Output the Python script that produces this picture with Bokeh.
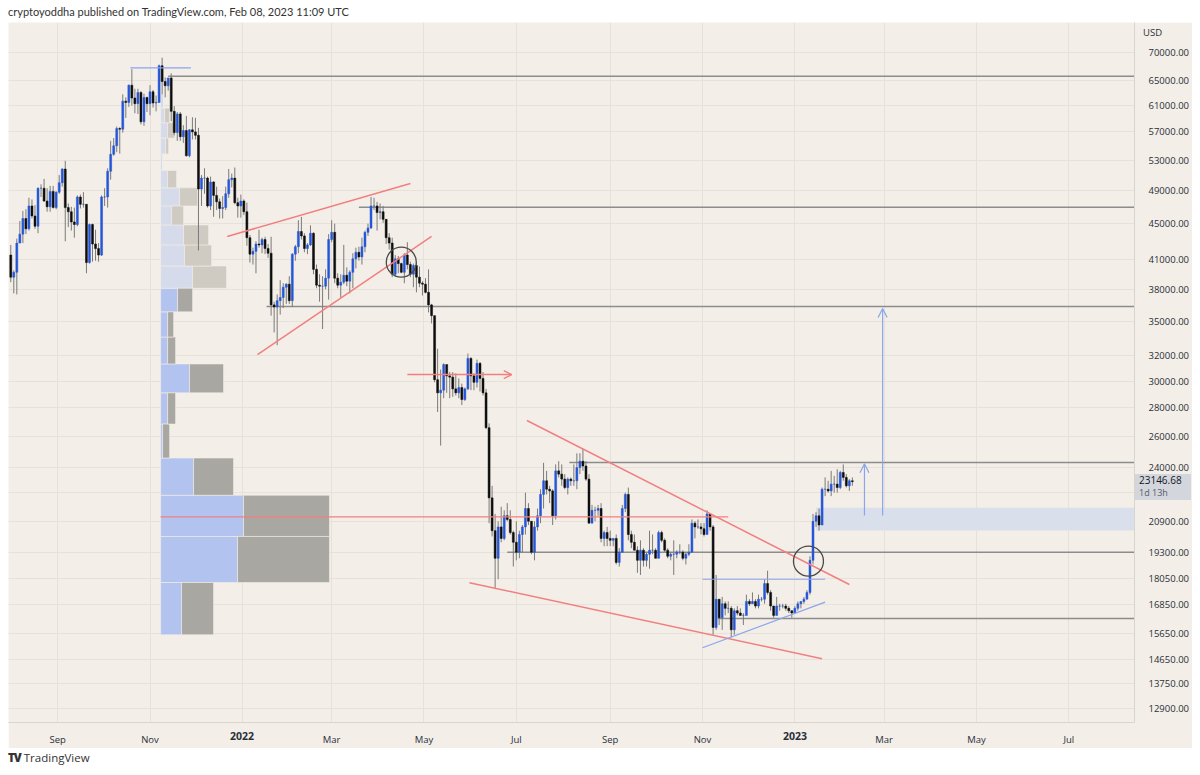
import numpy as np
import pandas as pd
from bokeh.plotting import figure
from bokeh.models import (Range1d, FixedTicker, PrintfTickFormatter, Arrow, OpenHead,
                          Div, Spacer, ColumnDataSource)
from bokeh.layouts import column, row
from bokeh.embed import file_html
from bokeh.resources import INLINE

# ---------------- data: BTC/USD 2-day candles, values in thousand USD ----------------
first_open_k = 41.5
close_k = [
    # Aug 2021
    39.2, 39.7, 42.8, 43.8, 45.6, 44.4, 47.1, 45.9, 44.7, 49.3, 49.3, 47.7, 47.0, 48.9, 46.9, 48.8,
    # Sep 2021
    50.0, 51.8, 46.9, 46.4, 45.2, 44.9, 48.2, 47.3, 47.3, 40.7, 44.9, 42.7, 42.2, 41.5, 48.2,
    # Oct 2021
    48.2, 51.5, 53.8, 55.0, 57.5, 57.4, 61.7, 61.5, 64.3, 62.2, 61.3, 63.1, 58.5, 62.3, 61.3,
    # Nov 2021
    63.2, 61.4, 61.5, 67.6, 64.9, 64.2, 65.5, 60.1, 56.9, 59.7, 56.3, 57.2, 53.6, 57.3, 57.0,
    # Dec 2021
    56.5, 49.2, 50.6, 50.6, 47.1, 50.1, 48.4, 47.6, 46.8, 46.9, 48.6, 50.4, 50.6, 47.5, 47.1, 47.7,
    # Jan 2022
    46.4, 43.4, 41.6, 41.9, 42.7, 42.6, 43.2, 42.2, 41.7, 36.5, 36.3, 36.9, 37.2, 38.2, 38.5,
    # Feb 2022
    36.9, 41.6, 42.4, 44.1, 43.6, 42.2, 42.6, 43.9, 40.0, 38.4, 38.3, 38.3, 39.1, 43.2,
    # Mar 2022
    44.0, 39.1, 38.4, 38.7, 39.4, 38.8, 39.7, 41.1, 41.8, 41.3, 42.4, 44.0, 44.5, 47.1, 47.1, 46.3,
    # Apr 2022
    46.4, 45.5, 43.4, 42.8, 39.5, 41.1, 40.6, 39.7, 41.5, 40.5, 39.5, 40.4, 39.2, 38.6, 38.5,
    # May 2022
    37.7, 36.5, 35.5, 30.1, 29.1, 29.3, 31.3, 30.4, 30.3, 29.4, 29.1, 29.5, 28.6, 29.4, 31.8,
    # Jun 2022
    30.4, 29.9, 31.4, 30.2, 29.1, 26.6, 22.2, 20.4, 19.0, 20.6, 20.0, 21.2, 21.0, 20.3, 19.8,
    # Jul 2022
    19.3, 20.2, 20.6, 21.6, 20.9, 19.3, 20.6, 21.2, 22.4, 23.2, 22.7, 22.6, 21.2, 23.8, 23.6, 23.3,
    # Aug 2022
    22.8, 23.3, 23.2, 23.2, 24.0, 24.4, 24.1, 23.3, 20.8, 21.5, 21.5, 21.6, 20.0, 20.3, 20.0,
    # Sep 2022
    19.9, 20.0, 18.8, 19.3, 21.6, 22.4, 20.2, 19.8, 19.4, 18.9, 19.4, 18.9, 19.2, 19.4, 19.4,
    # Oct 2022
    19.0, 20.3, 19.9, 19.4, 19.1, 19.2, 19.2, 19.3, 19.3, 19.0, 19.2, 19.3, 20.8, 20.6, 20.6, 20.5,
    # Nov 2022
    20.2, 21.3, 20.6, 15.9, 17.1, 16.3, 16.9, 16.7, 16.7, 15.8, 16.6, 16.5, 16.4, 16.4, 17.0,
    # Dec 2022
    16.9, 17.0, 16.8, 17.1, 17.1, 17.8, 17.4, 16.8, 16.4, 16.8, 16.8, 16.8, 16.7, 16.6, 16.5,
    # Jan 2023
    16.7, 16.9, 17.0, 17.1, 17.4, 18.9, 20.9, 21.2, 20.7, 22.7, 22.7, 22.6, 23.0, 23.0, 22.8, 23.7,
    # Feb 2023
    23.4, 22.9, 23.2, 23.14668,
]
high_k = [
    42.6, 39.9, 43.3, 45.3, 46.5, 46.7, 48.1, 47.9, 47.2, 49.4, 49.8, 50.5, 49.3, 49.6, 49.6, 48.9,
    51.0, 51.9, 52.9, 47.4, 47.0, 46.9, 48.4, 48.5, 48.8, 47.3, 45.0, 45.0, 44.3, 42.8, 48.4,
    49.3, 51.9, 55.7, 56.1, 57.8, 57.7, 62.8, 62.3, 64.4, 67.0, 63.7, 63.7, 63.3, 62.9, 62.4,
    64.3, 63.5, 62.6, 67.8, 69.0, 65.6, 65.5, 66.3, 60.9, 60.0, 60.0, 58.0, 59.4, 57.4, 59.2,
    59.1, 57.6, 51.0, 51.9, 50.8, 50.8, 50.2, 49.5, 48.0, 48.3, 49.5, 51.8, 51.2, 52.0, 48.1, 48.5,
    47.9, 47.5, 43.7, 42.3, 43.0, 44.3, 43.4, 43.5, 42.7, 43.5, 36.8, 37.5, 38.9, 38.6, 38.6,
    39.3, 41.7, 42.6, 45.4, 45.8, 43.9, 42.8, 44.8, 44.0, 40.5, 39.5, 39.3, 40.0, 43.8,
    45.4, 45.0, 39.6, 39.5, 42.6, 40.2, 39.9, 41.7, 42.3, 42.4, 43.4, 44.2, 45.0, 48.2, 48.1, 47.6,
    47.4, 47.1, 45.5, 43.9, 43.4, 41.5, 41.4, 40.7, 41.7, 42.9, 40.8, 40.6, 40.8, 40.3, 38.8,
    39.1, 40.0, 36.6, 35.5, 32.6, 30.9, 31.4, 31.3, 30.7, 30.7, 30.6, 30.2, 29.8, 29.5, 32.2,
    31.9, 30.6, 31.7, 31.5, 30.7, 29.4, 26.9, 22.9, 21.3, 20.9, 21.7, 21.5, 21.9, 21.5, 20.4,
    20.9, 20.4, 20.7, 22.5, 21.9, 20.9, 20.9, 21.6, 22.7, 24.3, 23.8, 22.9, 22.7, 24.2, 24.4, 24.2,
    23.6, 23.4, 23.4, 24.2, 24.9, 24.9, 25.2, 24.4, 23.6, 21.8, 21.7, 21.8, 21.9, 20.4, 20.6,
    20.4, 20.0, 20.2, 19.5, 21.8, 22.5, 22.8, 20.4, 20.2, 19.6, 19.9, 19.5, 19.3, 20.4, 20.2,
    19.5, 20.4, 20.4, 20.0, 19.5, 19.3, 19.9, 19.4, 19.7, 19.4, 19.3, 19.7, 21.0, 20.9, 21.0, 20.8,
    20.8, 21.5, 21.3, 20.7, 18.2, 17.1, 17.2, 17.0, 17.0, 16.8, 16.7, 16.8, 16.7, 16.5, 17.3,
    17.1, 17.4, 17.1, 17.3, 17.2, 18.0, 18.4, 17.5, 16.8, 17.2, 16.9, 16.9, 16.9, 16.8, 16.6,
    16.8, 17.0, 17.0, 17.2, 17.5, 19.1, 21.3, 21.4, 21.6, 22.8, 23.4, 23.2, 23.8, 23.5, 23.9, 23.8,
    24.2, 23.6, 23.3, 23.4,
]
low_k = [
    38.7, 37.6, 37.5, 42.8, 42.8, 43.8, 44.2, 45.6, 44.4, 43.9, 48.2, 47.6, 46.4, 46.4, 46.8, 46.7,
    48.6, 49.5, 43.0, 44.6, 44.2, 43.4, 44.7, 46.8, 46.9, 39.6, 40.6, 40.8, 40.9, 40.8, 41.4,
    47.1, 46.9, 50.4, 53.6, 54.1, 53.9, 56.9, 59.1, 60.8, 61.0, 59.8, 59.7, 58.1, 57.9, 60.0,
    59.5, 60.7, 60.1, 61.4, 62.8, 62.3, 63.4, 58.6, 56.5, 55.7, 55.7, 55.4, 53.5, 53.4, 55.9,
    55.9, 42.0, 47.1, 48.6, 46.9, 46.6, 45.8, 46.6, 45.6, 45.6, 46.6, 48.1, 49.4, 47.3, 45.7, 45.7,
    46.0, 42.5, 40.7, 40.5, 39.6, 42.3, 41.7, 41.6, 41.2, 35.5, 34.0, 32.9, 35.6, 36.2, 36.6,
    36.6, 36.3, 40.9, 41.7, 43.2, 41.8, 41.6, 42.5, 39.5, 38.1, 36.8, 34.3, 38.0, 37.0,
    42.9, 38.6, 38.1, 37.2, 38.5, 38.3, 37.6, 38.1, 40.1, 40.9, 40.5, 41.8, 43.6, 44.4, 46.6, 44.2,
    45.5, 45.1, 42.7, 42.1, 39.2, 39.3, 39.6, 39.6, 38.6, 40.0, 39.2, 38.2, 37.7, 38.2, 37.4,
    37.6, 35.8, 34.8, 29.9, 27.7, 25.4, 28.7, 29.1, 28.7, 28.8, 28.9, 28.7, 28.2, 28.5, 29.3,
    29.3, 29.3, 29.5, 29.2, 28.9, 26.5, 20.8, 20.1, 17.6, 18.0, 19.8, 19.9, 20.9, 20.2, 18.6,
    18.9, 19.0, 19.3, 20.2, 20.7, 19.2, 18.9, 20.4, 20.8, 21.6, 22.4, 21.9, 20.7, 21.0, 23.4, 22.9,
    22.7, 22.4, 22.9, 22.9, 22.7, 23.6, 23.8, 23.2, 20.8, 20.8, 20.9, 21.2, 19.8, 19.6, 19.6,
    19.6, 19.6, 18.7, 18.6, 19.3, 21.4, 19.9, 19.5, 19.4, 18.3, 18.2, 18.6, 18.6, 18.5, 19.2,
    19.0, 19.0, 19.8, 19.3, 19.0, 18.9, 18.2, 19.0, 19.2, 18.9, 18.7, 19.1, 19.3, 20.0, 20.5, 20.2,
    20.1, 20.2, 20.4, 15.6, 15.8, 16.0, 15.8, 16.4, 16.5, 15.5, 15.6, 16.4, 16.4, 16.0, 16.4,
    16.8, 16.9, 16.7, 16.7, 17.0, 16.9, 17.3, 16.6, 16.3, 16.4, 16.6, 16.7, 16.6, 16.5, 16.3,
    16.5, 16.6, 16.7, 16.9, 17.1, 17.3, 18.7, 20.6, 20.4, 20.7, 22.3, 22.5, 22.3, 22.5, 22.5, 22.7,
    23.2, 22.8, 22.6, 22.9,
]
last_price = 23146.68
countdown = "1d 13h"

# Volume profile (fixed range from the Nov 2021 top): row edges in USD and up/down volume per row
vp_start = "2021-11-08"
vp_edges = [15600, 17850, 20100, 22350, 24600, 26850, 29100, 31350, 33600, 35850, 38100,
            40350, 42600, 44850, 47100, 49350, 51600, 53850, 56100, 58350, 60600, 62850]
vp_up = [21, 77, 83, 33, 2, 7, 29, 7, 7, 17, 32, 24, 23, 11, 19, 7, 2, 5, 7, 4, 3]
vp_down = [32, 92, 86, 40, 7, 8, 34, 8, 6, 15, 34, 27, 25, 12, 18, 9, 0, 3, 7, 5, 0]
vp_value_area_rows = 10

# Horizontal levels drawn to the right edge
level_prices = [65800, 46950, 36350, 24320, 19300, 16270]
level_starts = ["2021-11-13", "2022-03-19", "2022-01-17", "2022-08-05", "2022-06-25", "2022-11-11"]

# Red trend lines (wedge and falling channel)
trend_x0 = ["2021-12-22", "2022-01-11", "2022-07-08", "2022-05-31"]
trend_y0 = [43540, 32120, 27100, 17840]
trend_x1 = ["2022-04-22", "2022-05-06", "2023-02-06", "2023-01-19"]
trend_y1 = [49910, 43540, 17760, 14670]

# Blue support line and short blue levels
blue_x0 = ["2022-11-01", "2021-10-19", "2022-11-01"]
blue_y0 = [15090, 67240, 18000]
blue_x1 = ["2023-01-21", "2021-11-28", "2023-01-21"]
blue_y1 = [16970, 67240, 18000]

# Red point-of-control line and red arrow
poc_price, poc_x0, poc_x1 = 21140, "2021-11-08", "2022-11-18"
red_arrow_price, red_arrow_x0, red_arrow_x1 = 30500, "2022-04-20", "2022-06-28"

# Circles
circle_x = ["2022-04-16", "2023-01-10"]
circle_y = [40750, 18860]

# Demand zone and target arrows
zone_x0, zone_bottom, zone_top = "2023-01-15", 20410, 21640
target_x = ["2023-02-16", "2023-02-28"]
target_from = [21220, 21220]
target_to = [24240, 36160]

y_ticks = [12900, 13750, 14650, 15650, 16850, 18050, 19300, 20900, 22500, 24000, 26000, 28000,
           30000, 32000, 35000, 38000, 41000, 45000, 49000, 53000, 57000, 61000, 65000, 70000]
x_tick_dates = ["2021-09-01", "2021-11-01", "2022-01-01", "2022-03-01", "2022-05-01", "2022-07-01",
                "2022-09-01", "2022-11-01", "2023-01-01", "2023-03-01", "2023-05-01", "2023-07-01"]
x_tick_labels = ["Sep", "Nov", "2022", "Mar", "May", "Jul", "Sep", "Nov", "2023", "Mar", "May", "Jul"]

# ---------------- styling ----------------
BG = "#f3efe8"
GRID = "#e6e2da"
UP = "#2456d8"
DOWN = "#0d0d0d"
WICK = "#7a7a7a"
RED = "#f27f80"
BLUE_LINE = "#8aa5ec"
LEVEL = "#8c8c8c"
FONT = "Open Sans"
TXT = "#2a2e39"

DAY_MS = 86400000
PX_PER_DAY = 1.515


def ms(s):
    return pd.Timestamp(s).value // 10**6


x_start = pd.Timestamp("2021-07-30 12:00")
x_end = pd.Timestamp("2023-08-13 09:36")
y_lo, y_hi = 12445, 75560

p = figure(width=1184, height=726, x_axis_type="datetime", y_axis_type="log",
           y_axis_location="right", x_range=Range1d(x_start, x_end), y_range=Range1d(y_lo, y_hi),
           output_backend="svg", toolbar_location=None,
           min_border_left=0, min_border_top=0, min_border_right=57, min_border_bottom=26)
p.background_fill_color = BG
p.border_fill_color = BG
p.outline_line_color = None

# axes
yt = FixedTicker(ticks=y_ticks)
p.yaxis.ticker = yt
p.ygrid.ticker = yt
p.yaxis.formatter = PrintfTickFormatter(format="%.2f")
p.yaxis.major_label_overrides = {22500: ""}
xt = FixedTicker(ticks=[ms(d) for d in x_tick_dates])
p.xaxis.ticker = xt
p.xgrid.ticker = xt
p.xaxis.major_label_overrides = {ms(d): ("" if lab.isdigit() else lab)
                                 for d, lab in zip(x_tick_dates, x_tick_labels)}
for ax in (p.xaxis, p.yaxis):
    ax.axis_line_color = "#d9d5cd"
    ax.major_tick_line_color = None
    ax.minor_tick_line_color = None
    ax.major_label_text_font = FONT
    ax.major_label_text_font_size = "9.5px"
    ax.major_label_text_color = TXT
p.yaxis.major_label_standoff = 8
p.xaxis.major_label_standoff = 4
p.xgrid.grid_line_color = GRID
p.ygrid.grid_line_color = GRID

# demand zone (under everything)
p.quad(left=[pd.Timestamp(zone_x0)], right=[x_end], bottom=[zone_bottom], top=[zone_top],
       fill_color="#dadfec", line_color=None)

# volume profile
n_rows = len(vp_up)
vp_left = pd.Timestamp(vp_start)
unit = pd.Timedelta(milliseconds=DAY_MS / PX_PER_DAY)
bot = vp_edges[:n_rows]
top = vp_edges[1:n_rows + 1]
up_right = [vp_left + unit * v for v in vp_up]
dn_right = [vp_left + unit * (u + d) for u, d in zip(vp_up, vp_down)]
up_col = ["#b3c3ef" if i < vp_value_area_rows else "#d5dbeb" for i in range(n_rows)]
dn_col = ["#a9a7a1" if i < vp_value_area_rows else "#cfcac2" for i in range(n_rows)]
p.quad(left=[vp_left] * n_rows, right=up_right, bottom=bot, top=top,
       fill_color=up_col, line_color=BG, line_width=0.6)
p.quad(left=up_right, right=dn_right, bottom=bot, top=top,
       fill_color=dn_col, line_color=BG, line_width=0.6)

# levels
p.segment(x0=[pd.Timestamp(s) for s in level_starts], x1=[x_end] * len(level_prices),
          y0=level_prices, y1=level_prices, line_color=LEVEL, line_width=1.4)

# candles
dates = pd.date_range("2021-08-01", periods=len(close_k), freq="2D")
open_k = [first_open_k] + close_k[:-1]
o = np.array(open_k) * 1000
c = np.array(close_k) * 1000
h = np.array(high_k) * 1000
l = np.array(low_k) * 1000
src = ColumnDataSource(dict(t=dates, o=o, c=c, h=h, l=l,
                            top=np.maximum(o, c), bottom=np.minimum(o, c),
                            col=[UP if cc >= oo else DOWN for oo, cc in zip(o, c)]))
p.segment(x0="t", x1="t", y0="h", y1="l", source=src, line_color=WICK, line_width=1)
p.vbar(x="t", width=1.3 * DAY_MS, top="top", bottom="bottom", source=src,
       fill_color="col", line_color="col", line_width=0.5)

# red lines
p.segment(x0=[pd.Timestamp(s) for s in trend_x0], y0=trend_y0,
          x1=[pd.Timestamp(s) for s in trend_x1], y1=trend_y1, line_color=RED, line_width=1.5)
p.segment(x0=[pd.Timestamp(poc_x0)], y0=[poc_price], x1=[pd.Timestamp(poc_x1)], y1=[poc_price],
          line_color=RED, line_width=1.2)
p.add_layout(Arrow(end=OpenHead(size=8, line_color=RED, line_width=1.3),
                   x_start=ms(red_arrow_x0), y_start=red_arrow_price,
                   x_end=ms(red_arrow_x1), y_end=red_arrow_price,
                   line_color=RED, line_width=1.5))

# blue lines
p.segment(x0=[pd.Timestamp(s) for s in blue_x0], y0=blue_y0,
          x1=[pd.Timestamp(s) for s in blue_x1], y1=blue_y1, line_color=BLUE_LINE, line_width=1.2)

# circles
p.scatter(x=[pd.Timestamp(s) for s in circle_x], y=circle_y, marker="circle", size=30,
          fill_alpha=0, line_color="#4a4a4a", line_width=1.3)

# target arrows
for tx, y0, y1 in zip(target_x, target_from, target_to):
    p.add_layout(Arrow(end=OpenHead(size=9, line_color=BLUE_LINE, line_width=1.2),
                       x_start=ms(tx), y_start=y0, x_end=ms(tx), y_end=y1,
                       line_color=BLUE_LINE, line_width=1.2))

# ---------- page texts outside the plotting frame (overlay) ----------
def span(text, left, top, extra=""):
    return (f'<span style="position:absolute;left:{left}px;top:{top}px;white-space:nowrap;'
            f'font-family:\'{FONT}\';color:{TXT};{extra}">{text}</span>')

year_spans = "".join(
    span(lab, x - 14, 730, "font-size:10.5px;font-weight:700;width:28px;text-align:center;line-height:13px")
    for lab, x in [(x_tick_labels[2], 242), (x_tick_labels[8], 795)])
overlay_html = (
    span("USD", 1143, 27, "font-size:9.5px;line-height:12px")
    + '<span style="position:absolute;left:1135px;top:474px;width:56px;height:26px;background:#d3d6dc"></span>'
    + span(f"{last_price:.2f}", 1139, 475, "font-size:10px;line-height:11px;color:#131722")
    + span(countdown, 1139, 488, "font-size:9px;line-height:10px;color:#555a66")
    + year_spans
)
overlay = Div(text=overlay_html, width=1200, height=775, margin=0,
              styles={"position": "absolute", "left": "0px", "top": "0px",
                      "pointer-events": "none", "z-index": "10"})

title = Div(text="cryptoyoddha published on TradingView.com, Feb 08, 2023 11:09 UTC",
            width=1200, height=22, margin=0,
            styles={"font-family": "Lato", "font-size": "11px", "color": "#333",
                    "line-height": "24px", "padding-left": "8px"})
footer = Div(text='<span style="font-weight:900;letter-spacing:-1px">TV</span> TradingView',
             width=1200, height=27, margin=0,
             styles={"font-family": FONT, "font-size": "11.5px", "color": "#333",
                     "line-height": "16px", "padding-left": "8px", "padding-top": "2px"})
layout = column(title, row(Spacer(width=8, height=726, margin=0), p, Spacer(width=8, height=726, margin=0),
                           margin=0), footer, overlay, margin=0)

open("out.html", "w").write(file_html(layout, INLINE))
